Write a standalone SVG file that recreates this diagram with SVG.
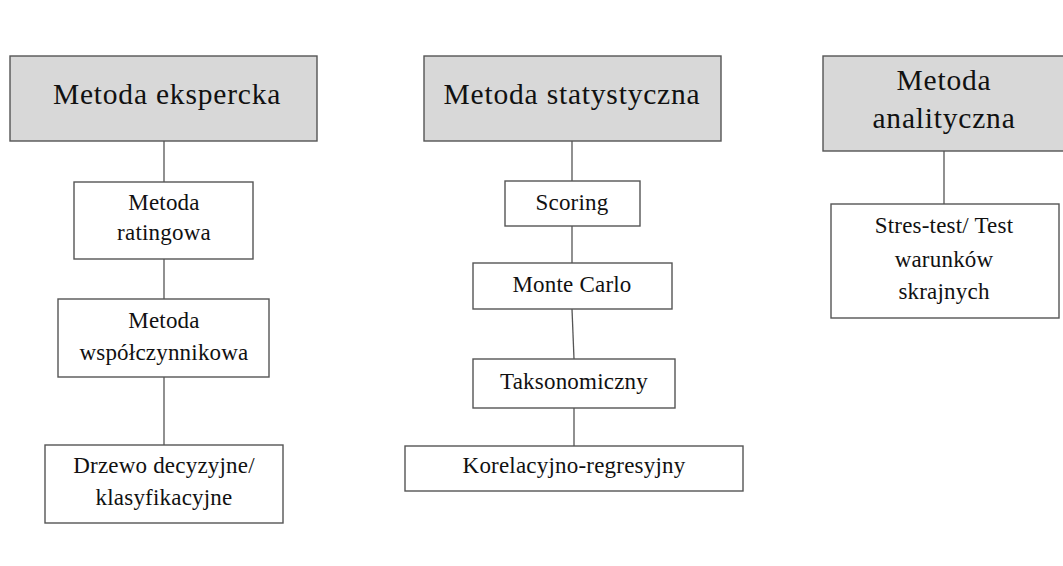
<svg xmlns="http://www.w3.org/2000/svg" width="1063" height="566" viewBox="0 0 1063 566">
<style>
.hdr{fill:#d8d8d8;stroke:#555;stroke-width:1.4}
.box{fill:#fff;stroke:#555;stroke-width:1.4}
.conn{stroke:#555;stroke-width:1.3;fill:none}
text{font-family:"Liberation Serif","Times New Roman",serif;fill:#111;text-anchor:middle}
.h{font-size:29.5px;letter-spacing:0.8px}
.b{font-size:23px;letter-spacing:0.2px}
</style>
<rect width="1063" height="566" fill="#fff"/>
<g id="connectors">
<line class="conn" x1="164" y1="141" x2="164" y2="182"/>
<line class="conn" x1="164" y1="259" x2="164" y2="299"/>
<line class="conn" x1="164" y1="377" x2="164" y2="445"/>
<line class="conn" x1="572" y1="141" x2="572" y2="181"/>
<line class="conn" x1="572" y1="226" x2="572" y2="263"/>
<line class="conn" x1="572" y1="309" x2="574" y2="359"/>
<line class="conn" x1="574" y1="408" x2="574" y2="446"/>
<line class="conn" x1="944" y1="151" x2="944" y2="204"/>
</g>
<g id="n-ekspercka">
<rect class="hdr" x="10" y="56" width="307" height="85"/>
<text class="h" x="167" y="104">Metoda ekspercka</text>
</g>
<g id="n-ratingowa">
<rect class="box" x="74" y="182" width="179" height="77"/>
<text class="b" x="164" y="210">Metoda</text>
<text class="b" x="164" y="240">ratingowa</text>
</g>
<g id="n-wspolczynnikowa">
<rect class="box" x="58" y="299" width="211" height="78"/>
<text class="b" x="164" y="328">Metoda</text>
<text class="b" x="164" y="360">współczynnikowa</text>
</g>
<g id="n-drzewo">
<rect class="box" x="45" y="445" width="238" height="78"/>
<text class="b" x="164" y="473">Drzewo decyzyjne/</text>
<text class="b" x="164" y="505">klasyfikacyjne</text>
</g>
<g id="n-statystyczna">
<rect class="hdr" x="424" y="56" width="297" height="85"/>
<text class="h" x="572" y="104">Metoda statystyczna</text>
</g>
<g id="n-scoring">
<rect class="box" x="505" y="181" width="135" height="45"/>
<text class="b" x="572" y="210">Scoring</text>
</g>
<g id="n-montecarlo">
<rect class="box" x="473" y="263" width="199" height="46"/>
<text class="b" x="572" y="292">Monte Carlo</text>
</g>
<g id="n-taksonomiczny">
<rect class="box" x="473" y="359" width="202" height="49"/>
<text class="b" x="574" y="389">Taksonomiczny</text>
</g>
<g id="n-korelacyjno">
<rect class="box" x="405" y="446" width="338" height="45"/>
<text class="b" x="574" y="473">Korelacyjno-regresyjny</text>
</g>
<g id="n-analityczna">
<rect class="hdr" x="823" y="56" width="250" height="95"/>
<text class="h" x="944" y="90">Metoda</text>
<text class="h" x="944" y="128">analityczna</text>
</g>
<g id="n-strestest">
<rect class="box" x="831" y="204" width="228" height="114"/>
<text class="b" x="944" y="233">Stres-test/ Test</text>
<text class="b" x="944" y="267">warunków</text>
<text class="b" x="944" y="299">skrajnych</text>
</g>
</svg>
